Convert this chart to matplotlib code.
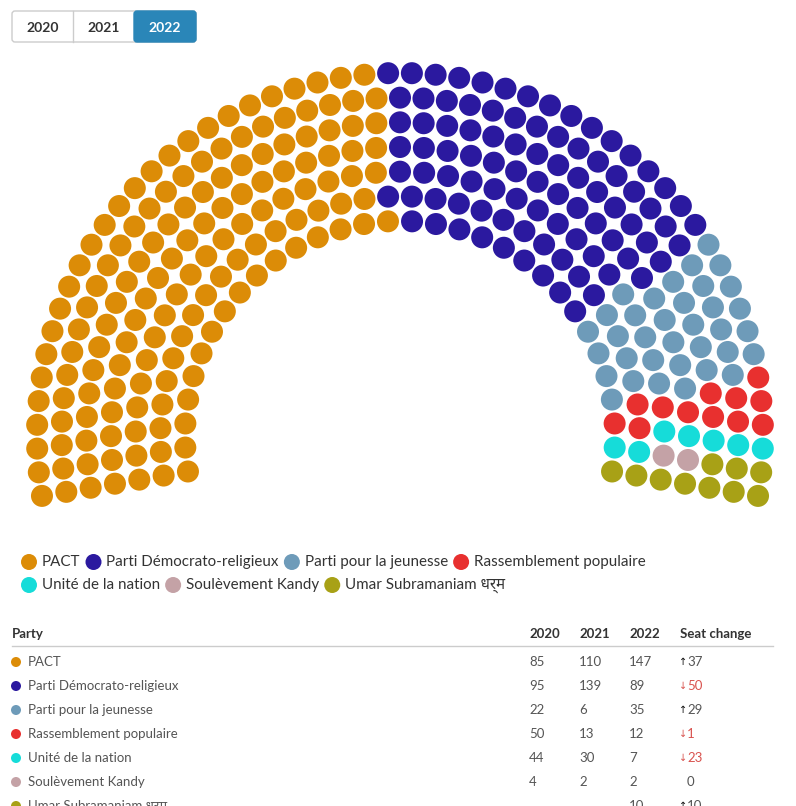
import numpy as np
import matplotlib
matplotlib.use("Agg")
import matplotlib.pyplot as plt
from matplotlib.patches import Circle, FancyBboxPatch

plt.rcParams['font.family'] = ['Lato', 'Noto Sans', 'DejaVu Sans']

# data
parties = ['PACT', 'Parti Démocrato-religieux', 'Parti pour la jeunesse',
           'Rassemblement populaire', 'Unité de la nation', 'Soulèvement Kandy',
           'Umar Subramaniam धर्म']
colors = ['#dc8c07', '#2b199f', '#6e9bb9', '#e8302f', '#16dcd9', '#c4a2a6', '#a8a116']
seats_2020 = [85, 95, 22, 50, 44, 4, None]
seats_2021 = [110, 139, 6, 13, 30, 2, None]
seats_2022 = [147, 89, 35, 12, 7, 2, 10]
years = ['2020', '2021', '2022']

# hemicycle layout
row_seats = [32, 36, 39, 43, 47, 51, 54]
cx, cy = 400, 436
r_in, r_out = 215, 363
tilt = 9.5
dot_r = 11

fig = plt.figure(figsize=(7.96, 8.06), dpi=100)
ax = fig.add_axes([0, 0, 1, 1])
ax.set_xlim(0, 796)
ax.set_ylim(806, 0)
ax.axis('off')

# year buttons
bx = [12, 73, 134, 196]
by, bh = 11, 31
ax.add_patch(FancyBboxPatch((bx[0], by), bx[3] - bx[0], bh,
                            boxstyle='round,pad=0,rounding_size=3',
                            fc='white', ec='#cccccc', lw=1))
for i, yr in enumerate(years):
    sel = yr == '2022'
    if sel:
        ax.add_patch(FancyBboxPatch((bx[i], by), bx[i + 1] - bx[i], bh,
                                    boxstyle='round,pad=0,rounding_size=3',
                                    fc='#2a86b8', ec='#2a86b8', lw=1))
    elif i > 0:
        ax.plot([bx[i], bx[i]], [by, by + bh], color='#cccccc', lw=1)
    ax.text((bx[i] + bx[i + 1]) / 2, by + bh / 2 + 1, yr, ha='center', va='center',
            fontsize=10, fontweight='bold', color='white' if sel else '#333333')

# seats, sorted by angle from left to right
radii = np.linspace(r_in, r_out, len(row_seats))
pts = []
for r, n in zip(radii, row_seats):
    ang = np.linspace(180 + tilt, -tilt, n)
    for a in ang:
        pts.append((a, r))
pts.sort(key=lambda p: (-p[0], p[1]))
owner = np.repeat(np.arange(len(parties)), seats_2022)
for (a, r), k in zip(pts, owner):
    x = cx + r * np.cos(np.radians(a))
    y = cy - r * np.sin(np.radians(a))
    ax.add_patch(Circle((x, y), dot_r, fc=colors[k], ec='none'))

# legend
fig.canvas.draw()
rend = fig.canvas.get_renderer()
inv = ax.transData.inverted()
legend_rows = [[0, 1, 2, 3], [4, 5, 6]]
for row, idx in enumerate(legend_rows):
    y = 562 + 23 * row
    x = 21
    for k in idx:
        ax.add_patch(Circle((x + 8, y), 8, fc=colors[k], ec='none'))
        t = ax.text(x + 21, y, parties[k], ha='left', va='center',
                    fontsize=10.9, color='#333333')
        bb = t.get_window_extent(rend)
        w = inv.transform((bb.x1, 0))[0] - inv.transform((bb.x0, 0))[0]
        x = x + 21 + w + 5

# table
hy = 634
ax.text(12, hy, 'Party', ha='left', va='center', fontsize=9.5,
        fontweight='bold', color='#333333')
colx = [529, 579, 629]
for cxp, yr in zip(colx, years):
    ax.text(cxp, hy, yr, ha='left', va='center', fontsize=9.5,
            fontweight='bold', color='#333333')
ax.text(680, hy, 'Seat change', ha='left', va='center', fontsize=9.5,
        fontweight='bold', color='#333333')
ax.plot([12, 773], [646, 646], color='#cccccc', lw=1)

for i, name in enumerate(parties):
    y = 662 + 24 * i
    ax.add_patch(Circle((16, y), 5, fc=colors[i], ec='none'))
    ax.text(28, y, name, ha='left', va='center', fontsize=9.5, color='#555555')
    vals = [seats_2020[i], seats_2021[i], seats_2022[i]]
    for cxp, v in zip(colx, vals):
        if v is not None:
            ax.text(cxp, y, str(v), ha='left', va='center', fontsize=9.5,
                    color='#555555')
    prev = seats_2021[i] if seats_2021[i] is not None else 0
    diff = seats_2022[i] - prev
    if diff > 0:
        ax.text(683, y, '↑', ha='center', va='center', fontsize=7,
                color='#111111', family=['DejaVu Sans'])
        ax.text(687, y, str(diff), ha='left', va='center', fontsize=9.5,
                color='#555555')
    elif diff < 0:
        ax.text(683, y, '↓', ha='center', va='center', fontsize=7,
                color='#d9534f', family=['DejaVu Sans'])
        ax.text(687, y, str(-diff), ha='left', va='center', fontsize=9.5,
                color='#d9534f')
    else:
        ax.text(687, y, '0', ha='left', va='center', fontsize=9.5,
                color='#555555')

fig.savefig('out.png', dpi=100)
